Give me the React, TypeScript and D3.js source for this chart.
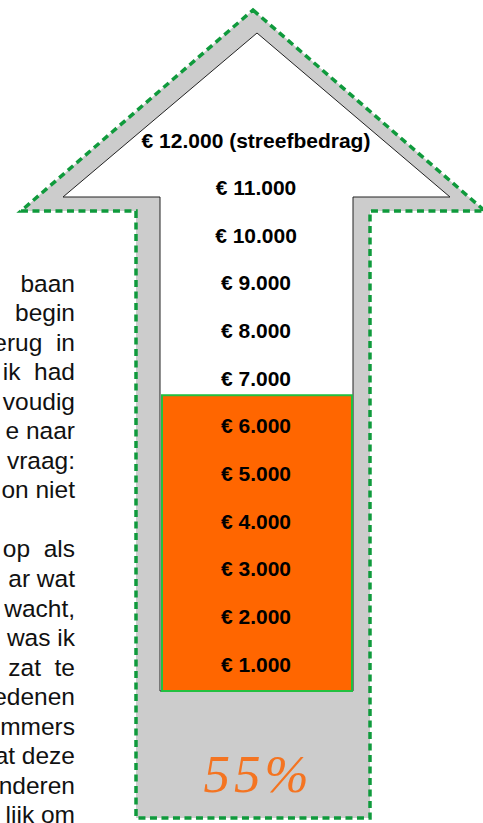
import { useEffect, useRef } from "react";
import * as d3 from "d3";

// fundraising thermometer-arrow
const target = 12000;
const raised = 6600;
const milestones = [1000, 2000, 3000, 4000, 5000, 6000, 7000, 8000, 9000, 10000, 11000, 12000];
const targetNote = "(streefbedrag)";

// the clipped paragraph that runs down the left margin
const sideText = [
  "baan",
  "begin",
  "erug  in",
  "ik  had",
  "voudig",
  "e naar",
  "vraag:",
  "on niet",
  "",
  "op  als",
  "ar wat",
  "wacht,",
  "was ik",
  "zat  te",
  "edenen",
  "mmers",
  "at deze",
  "nderen",
  "lijk om",
];

const W = 483;
const H = 823;

export default function App() {
  const svgRef = useRef<SVGSVGElement | null>(null);

  useEffect(() => {
    const svgEl = svgRef.current;
    if (!svgEl) return;
    const svg = d3.select(svgEl);
    svg.selectAll("*").remove();

    const y = d3.scaleLinear().domain([1000, 12000]).range([664, 140]);
    const fmt = (v: number) => "€ " + d3.format(",")(v).replace(/,/g, ".");

    // outer arrow (grey band with dashed green edge)
    const outer: [number, number][] = [
      [253, 10], [485, 211], [370, 211], [370, 818], [136, 818], [136, 211], [21, 211],
    ];
    const inner: [number, number][] = [
      [257, 33], [450, 197], [353, 197], [353, 691], [160, 691], [160, 197], [63, 197],
    ];
    const line = d3.line();

    svg.append("path")
      .attr("d", line(outer) + "Z")
      .attr("fill", "#cccccc")
      .attr("stroke", "#0f9a3c")
      .attr("stroke-width", 3.5)
      .attr("stroke-dasharray", "7 4.5");

    svg.append("path")
      .attr("d", line(inner) + "Z")
      .attr("fill", "#ffffff")
      .attr("stroke", "#222")
      .attr("stroke-width", 1);

    // raised amount bar
    svg.append("rect")
      .attr("x", 162)
      .attr("width", 352 - 162)
      .attr("y", y(raised) - 2)
      .attr("height", 691 - y(raised) + 2)
      .attr("fill", "#ff6600")
      .attr("stroke", "#22c040")
      .attr("stroke-width", 2);

    svg.append("g")
      .selectAll("text")
      .data(milestones)
      .join("text")
      .attr("x", 256)
      .attr("y", (d) => y(d))
      .attr("dy", "0.36em")
      .attr("text-anchor", "middle")
      .attr("font-family", "'Liberation Sans', Arial, sans-serif")
      .attr("font-weight", "bold")
      .attr("font-size", 21)
      .attr("fill", "#000")
      .text((d) => (d === target ? `${fmt(d)} ${targetNote}` : fmt(d)));

    svg.append("text")
      .attr("x", 258)
      .attr("y", 792)
      .attr("text-anchor", "middle")
      .attr("font-family", "'Liberation Serif', 'DejaVu Serif', serif")
      .attr("font-style", "italic")
      .attr("font-size", 53)
      .attr("letter-spacing", 4)
      .attr("fill", "#f47421")
      .text(`${Math.round((raised / target) * 100)}%`);

    svg.append("g")
      .selectAll("text")
      .data(sideText)
      .join("text")
      .attr("x", 75)
      .attr("y", (_, i) => 291.5 + i * 29.55)
      .attr("text-anchor", "end")
      .attr("font-family", "'Liberation Sans', Arial, sans-serif")
      .attr("font-size", 24.5)
      .attr("fill", "#111")
      .style("white-space", "pre")
      .text((d) => d);
  }, []);

  return (
    <div style={{ position: "fixed", left: 0, top: 0, width: W, height: H, background: "#fff" }}>
      <svg ref={svgRef} width={W} height={H} />
    </div>
  );
}
